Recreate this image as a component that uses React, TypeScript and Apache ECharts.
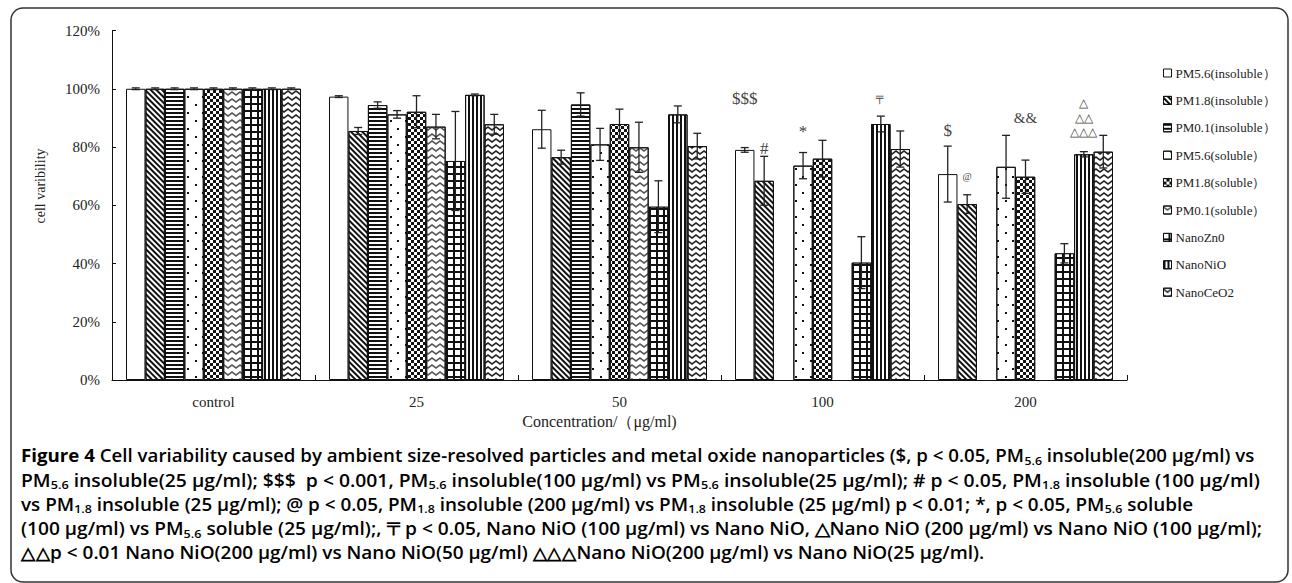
import React, { useEffect, useRef } from 'react';
import * as echarts from 'echarts';

// ---------------- data ----------------
const categories = ['control', '25', '50', '100', '200'];
const seriesNames = [
  'PM5.6(insoluble）',
  'PM1.8(insoluble）',
  'PM0.1(insoluble）',
  'PM5.6(soluble）',
  'PM1.8(soluble）',
  'PM0.1(soluble）',
  'NanoZn0',
  'NanoNiO',
  'NanoCeO2',
];

const pm56Insoluble = [100, 97.3, 86.1, 79.0, 70.7];
const pm18Insoluble = [100, 85.5, 76.5, 68.4, 60.4];
const pm01Insoluble = [100, 94.4, 94.6, null, null];
const pm56Soluble = [100, 91.2, 80.9, 73.6, 73.2];
const pm18Soluble = [100, 92.1, 87.9, 76.0, 69.8];
const pm01Soluble = [100, 87.0, 79.9, null, null];
const nanoZnO = [100, 75.2, 59.5, 40.3, 43.5];
const nanoNiO = [100, 97.9, 91.2, 87.9, 77.5];
const nanoCeO2 = [100, 87.8, 80.3, 79.3, 78.4];

const pm56InsolubleErr = [0.3, 0.3, 6.5, 0.8, 9.6];
const pm18InsolubleErr = [0.3, 1.2, 2.4, 8.4, 3.2];
const pm01InsolubleErr = [0.3, 1.1, 4.0, null, null];
const pm56SolubleErr = [0.3, 1.3, 5.5, 4.5, 10.8];
const pm18SolubleErr = [0.3, 5.5, 5.1, 6.3, 5.7];
const pm01SolubleErr = [0.3, 4.2, 8.6, null, null];
const nanoZnOErr = [0.3, 17.0, 8.9, 8.9, 3.3];
const nanoNiOErr = [0.3, 0.3, 2.9, 2.7, 0.9];
const nanoCeO2Err = [0.3, 3.4, 4.4, 6.2, 5.6];

const yTicks = [0, 20, 40, 60, 80, 100, 120];

// significance marks: text, category index, series index, y value (%)
const markTexts = ['$$$', '#', '*', '〒', '$', '@', '&&', '△', '△△', '△△△'];
const markCategory = [3, 3, 3, 3, 4, 4, 4, 4, 4, 4];
const markSeries = [0, 1, 3, 7, 0, 1, 4, 7, 7, 7];
const markValue = [96.8, 79.5, 85.3, 96.1, 85.5, 69.7, 90.0, 95.1, 90.1, 85.2];

const captionLead = 'Figure 4';
const captionLines = [
  ' Cell variability caused by ambient size-resolved particles and metal oxide nanoparticles ($, p < 0.05, PM[5.6] insoluble(200 μg/ml) vs',
  'PM[5.6] insoluble(25 μg/ml); $$$  p < 0.001, PM[5.6] insoluble(100 μg/ml) vs PM[5.6] insoluble(25 μg/ml); # p < 0.05, PM[1.8] insoluble (100 μg/ml)',
  'vs PM[1.8] insoluble (25 μg/ml); @ p < 0.05, PM[1.8] insoluble (200 μg/ml) vs PM[1.8] insoluble (25 μg/ml) p < 0.01; *, p < 0.05, PM[5.6] soluble',
  '(100 μg/ml) vs PM[5.6] soluble (25 μg/ml);, 〒p < 0.05, Nano NiO (100 μg/ml) vs Nano NiO, △Nano NiO (200 μg/ml) vs Nano NiO (100 μg/ml);',
  '△△p < 0.01 Nano NiO(200 μg/ml) vs Nano NiO(50 μg/ml) △△△Nano NiO(200 μg/ml) vs Nano NiO(25 μg/ml).',
];

// ---------------- layout / styling ----------------
const values = [pm56Insoluble, pm18Insoluble, pm01Insoluble, pm56Soluble, pm18Soluble, pm01Soluble, nanoZnO, nanoNiO, nanoCeO2];
const errors = [pm56InsolubleErr, pm18InsolubleErr, pm01InsolubleErr, pm56SolubleErr, pm18SolubleErr, pm01SolubleErr, nanoZnOErr, nanoNiOErr, nanoCeO2Err];

const CAT_GAP = 0.138;
const SERIF = '"Liberation Serif", "Times New Roman", serif';
const SANS = '"Open Sans", "Noto Sans", sans-serif';
const chevron = 'path://M0,0L5,4L10,0L10,2.5L5,6.5L0,2.5Z';

const CAP_X = 21;
const CAP_Y0 = 455;
const CAP_STEP = 24.4;
const CAP_ENDS = [1255, 1260, 1193, 1264, 988];
const CAP_SIZE = 17.5;
const CAP_SUB = 11.5;

const fills = ['#fff', '#fff', '#fff', '#fff', '#fff', '#fff', '#111', '#fff', '#fff'];
const decals: any[] = [
  null,
  { color: '#111', symbol: 'rect', symbolSize: 1, dashArrayX: [1, 0], dashArrayY: [1.1, 1.7], rotation: Math.PI / 4 },
  { color: '#111', symbol: 'rect', symbolSize: 1, dashArrayX: [1, 0], dashArrayY: [1.1, 1.4], rotation: 0 },
  { color: '#111', symbol: 'rect', symbolSize: 1, dashArrayX: [[1.5, 12.5], [0, 7, 1.5, 5.5]], dashArrayY: [1.5, 5.5], rotation: 0 },
  { color: '#111', symbol: 'rect', symbolSize: 1, dashArrayX: [[2.8, 2.8], [0, 2.8, 2.8, 0]], dashArrayY: [2.8, 0], rotation: 0 },
  { color: '#555', symbol: chevron, symbolSize: 1, symbolKeepAspect: false, dashArrayX: [8, 0], dashArrayY: [5, 1.5], rotation: 0 },
  { color: '#fff', symbol: 'rect', symbolSize: 1, dashArrayX: [4.3, 1.7], dashArrayY: [4.3, 1.7], rotation: 0 },
  { color: '#111', symbol: 'rect', symbolSize: 1, dashArrayX: [1.5, 1.8], dashArrayY: [1, 0], rotation: 0 },
  { color: '#222', symbol: chevron, symbolSize: 1, symbolKeepAspect: false, dashArrayX: [8, 0], dashArrayY: [5, 1], rotation: 0 },
];

const markFontSize: Record<string, number> = {
  '$$$': 17, '#': 17, '*': 17, '〒': 12, '$': 17, '@': 10, '&&': 15, '△': 12, '△△': 12, '△△△': 12,
};

type Seg = { k: 'b' | 'n' | 's'; t: string };

function lineSegs(i: number): Seg[] {
  const segs: Seg[] = [];
  if (i === 0) segs.push({ k: 'b', t: captionLead });
  captionLines[i].split(/\[([^\]]+)\]/).forEach((part, j) => {
    if (part !== '') segs.push({ k: j % 2 === 1 ? 's' : 'n', t: part });
  });
  return segs;
}

const segFont = (k: string) =>
  k === 'b' ? `bold ${CAP_SIZE}px ${SANS}` : k === 's' ? `600 ${CAP_SUB}px ${SANS}` : `600 ${CAP_SIZE}px ${SANS}`;

function measureSegs(segs: Seg[]): number {
  const ctx = document.createElement('canvas').getContext('2d');
  if (!ctx) return 1;
  let w = 0;
  segs.forEach((s) => {
    ctx.font = segFont(s.k);
    w += ctx.measureText(s.t).width;
  });
  return w;
}

function buildOption() {
  const n = seriesNames.length;

  const barSeries = seriesNames.map((name, s) => ({
    name,
    type: 'bar',
    data: values[s].map((v) => (v == null ? '-' : v)),
    barGap: '0%',
    barCategoryGap: (CAT_GAP * 100).toFixed(1) + '%',
    itemStyle: {
      color: fills[s],
      borderColor: '#111',
      borderWidth: 1,
      decal: decals[s] || undefined,
    },
    emphasis: { disabled: true },
    z: 2,
  }));

  const errData: number[][] = [];
  values.forEach((arr, s) => {
    arr.forEach((v, c) => {
      const e = errors[s][c];
      if (v != null && e != null) errData.push([c, v, e, s]);
    });
  });

  const xOf = (api: any, c: number, s: number) => {
    const band = api.size([1, 0])[0];
    const groupW = band * (1 - CAT_GAP);
    const bw = groupW / n;
    return api.coord([c, 0])[0] - groupW / 2 + bw * (s + 0.5);
  };

  const errorSeries = {
    type: 'custom',
    z: 5,
    silent: true,
    data: errData,
    encode: { x: 0, y: 1 },
    renderItem: (params: any, api: any) => {
      const c = api.value(0);
      const v = api.value(1);
      const e = api.value(2);
      const s = api.value(3);
      const x = xOf(api, c, s);
      const yTop = api.coord([c, v + e])[1];
      const yBot = api.coord([c, v - e])[1];
      const cap = 4;
      const st = { stroke: '#222', lineWidth: 1.3 };
      return {
        type: 'group',
        children: [
          { type: 'line', shape: { x1: x, y1: yTop, x2: x, y2: yBot }, style: st },
          { type: 'line', shape: { x1: x - cap, y1: yTop, x2: x + cap, y2: yTop }, style: st },
          { type: 'line', shape: { x1: x - cap, y1: yBot, x2: x + cap, y2: yBot }, style: st },
        ],
      };
    },
  };

  const markData = markTexts.map((t, i) => [markCategory[i], markValue[i], markSeries[i]]);
  const markSeriesOpt = {
    type: 'custom',
    z: 6,
    silent: true,
    data: markData,
    encode: { x: 0, y: 1 },
    renderItem: (params: any, api: any) => {
      const c = api.value(0);
      const v = api.value(1);
      const s = api.value(2);
      const t = markTexts[params.dataIndex];
      const x = xOf(api, c, s);
      const y = api.coord([c, v])[1];
      return {
        type: 'text',
        x,
        y,
        style: {
          text: t,
          textAlign: 'center',
          textVerticalAlign: 'middle',
          fill: '#444',
          fontSize: markFontSize[t] || 14,
          fontFamily: SERIF,
        },
      };
    },
  };

  const richStyles = {
    b: { fontFamily: SANS, fontSize: CAP_SIZE, fontWeight: 'bold', color: '#231f20', lineHeight: 22 },
    n: { fontFamily: SANS, fontSize: CAP_SIZE, fontWeight: 600, color: '#231f20', lineHeight: 22 },
    s: { fontFamily: SANS, fontSize: CAP_SUB, fontWeight: 600, color: '#231f20', lineHeight: 15, verticalAlign: 'bottom' },
  };
  const captionGraphics = captionLines.map((line, i) => {
    const segs = lineSegs(i);
    const natural = measureSegs(segs);
    const sx = (CAP_ENDS[i] - CAP_X) / natural;
    return {
      type: 'text',
      x: CAP_X,
      y: CAP_Y0 + i * CAP_STEP,
      scaleX: sx,
      style: {
        text: segs.map((s) => `{${s.k}|${s.t}}`).join(''),
        rich: richStyles,
        textVerticalAlign: 'middle',
      },
    };
  });

  return {
    animation: false,
    backgroundColor: '#fff',
    grid: { left: 112, right: 165, top: 30.5, bottom: 203, containLabel: false },
    legend: {
      data: seriesNames,
      orient: 'vertical',
      left: 1163,
      top: 66,
      padding: 0,
      itemWidth: 8,
      itemHeight: 8,
      itemGap: 13.4,
      icon: 'rect',
      itemStyle: { borderColor: '#111', borderWidth: 1 },
      textStyle: { fontFamily: SERIF, fontSize: 13, color: '#222', lineHeight: 14, padding: [0, 0, 0, -1] },
      selectedMode: false,
    },
    xAxis: {
      type: 'category',
      data: categories,
      name: 'Concentration/（μg/ml)',
      nameLocation: 'middle',
      nameGap: 33,
      nameTextStyle: { fontFamily: SERIF, fontSize: 16, color: '#222', padding: [0, 40, 0, 0] },
      axisLine: { lineStyle: { color: '#111', width: 1 } },
      axisTick: { show: true, inside: true, length: 5, alignWithLabel: false, lineStyle: { color: '#111' } },
      axisLabel: { fontFamily: SERIF, fontSize: 15, color: '#222', margin: 14 },
      splitLine: { show: false },
    },
    yAxis: {
      type: 'value',
      min: yTicks[0],
      max: yTicks[yTicks.length - 1],
      interval: yTicks[1] - yTicks[0],
      axisLine: { show: true, lineStyle: { color: '#111', width: 1 } },
      axisTick: { show: true, inside: true, length: 4, lineStyle: { color: '#111' } },
      axisLabel: { fontFamily: SERIF, fontSize: 15, color: '#222', margin: 12, formatter: '{value}%' },
      splitLine: { show: false },
    },
    graphic: [
      {
        type: 'rect',
        silent: true,
        shape: { x: 11, y: 8, width: 1277, height: 574, r: 12 },
        style: { fill: 'none', stroke: '#333', lineWidth: 1.5 },
      },
      {
        type: 'text',
        x: 40,
        y: 186,
        rotation: Math.PI / 2,
        style: {
          text: 'cell varibility',
          fontFamily: SERIF,
          fontSize: 14,
          fill: '#222',
          textAlign: 'center',
          textVerticalAlign: 'middle',
        },
      },
      ...captionGraphics,
    ],
    series: [...barSeries, errorSeries, markSeriesOpt],
  };
}

export default function App() {
  const ref = useRef<HTMLDivElement>(null);
  useEffect(() => {
    if (!ref.current) return;
    const chart = echarts.init(ref.current, null, { renderer: 'svg' });
    chart.setOption(buildOption() as any);
    return () => chart.dispose();
  }, []);
  return (
    <div
      ref={ref}
      style={{ position: 'fixed', left: 0, top: 0, width: 1292, height: 583, background: '#fff' }}
    />
  );
}
